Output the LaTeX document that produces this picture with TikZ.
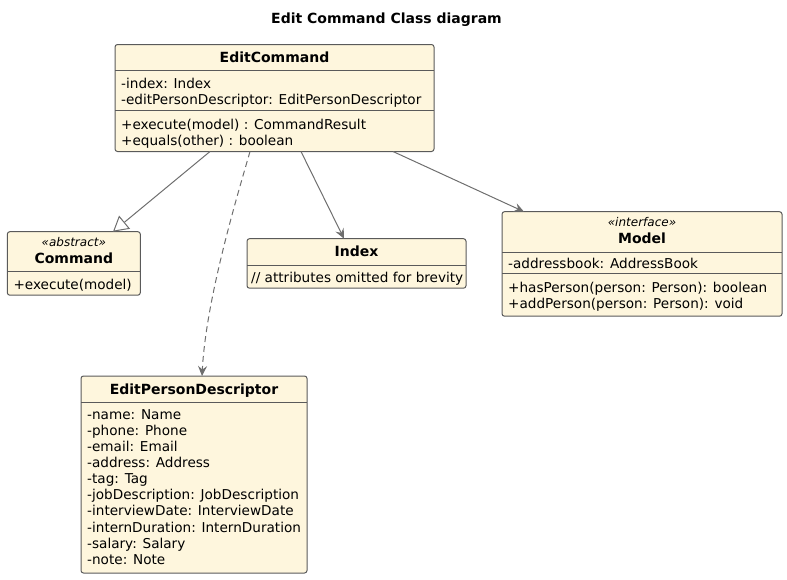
\documentclass[tikz,border=0pt]{standalone}
\usepackage{fontspec}
\setmainfont{DejaVu Sans}
\usetikzlibrary{arrows.meta,positioning}

\definecolor{classfill}{HTML}{FEF6DD}
\definecolor{classline}{HTML}{5A5A5A}
\definecolor{linkline}{HTML}{6E6E6E}

\begin{document}
\begin{tikzpicture}[x=1pt,y=-1pt,
    classbox/.style={draw=classline, fill=classfill, rounded corners=2.5pt, line width=1pt,
      anchor=north west, inner sep=0pt, outer sep=0pt},
    classname/.style={font=\fontsize{14}{16}\selectfont\bfseries, anchor=base, inner sep=0pt},
    stereo/.style={font=\fontsize{12}{14}\selectfont\itshape, anchor=base, inner sep=0pt},
    member/.style={font=\fontsize{13.6}{16}\selectfont, anchor=base west, inner sep=0pt},
    divider/.style={draw=classline, line width=1pt},
    link/.style={draw=linkline, line width=1pt},
    headtip/.tip={Stealth[length=10pt, width=9pt, inset=3.5pt]}]
    \useasboundingbox (0,0) rectangle (787,579);

    % Title
    \node[classname] (title) at (386.5,23) {Edit Command Class diagram};

    % EditCommand
    \node[classbox, minimum width=319pt, minimum height=107pt] (editcmd) at (115,44.5) {};
    \draw[divider] (editcmd.west |- 0,70) -- (editcmd.east |- 0,70);
    \draw[divider] (editcmd.west |- 0,110) -- (editcmd.east |- 0,110);
    \node[classname] (editcmdname) at (editcmd.north |- 0,62.5) {EditCommand};
    \node[member] (editcmdattr1) at (121,88) {-index: Index};
    \node[member] (editcmdattr2) at (121,104.5) {-editPersonDescriptor: EditPersonDescriptor};
    \node[member] (editcmdop1) at (121,129) {+execute(model) : CommandResult};
    \node[member] (editcmdop2) at (121,145) {+equals(other) : boolean};

    % Command
    \node[classbox, minimum width=133pt, minimum height=63.5pt] (command) at (7.3,231.7) {};
    \draw[divider] (command.west |- 0,271) -- (command.east |- 0,271);
    \node[stereo] (commandtype) at (command.north |- 0,246) {«abstract»};
    \node[classname] (commandname) at (command.north |- 0,263) {Command};
    \node[member] (commandop1) at (13.3,289) {+execute(model)};

    % Index
    \node[classbox, minimum width=219pt, minimum height=49.5pt] (index) at (247,238.7) {};
    \draw[divider] (index.west |- 0,265) -- (index.east |- 0,265);
    \node[classname] (indexname) at (index.north |- 0,256) {Index};
    \node[member] (indexnote) at (251,282) {// attributes omitted for brevity};

    % Model
    \node[classbox, minimum width=280pt, minimum height=104.5pt] (model) at (502,211.7) {};
    \draw[divider] (model.west |- 0,252) -- (model.east |- 0,252);
    \draw[divider] (model.west |- 0,273) -- (model.east |- 0,273);
    \node[stereo] (modeltype) at (model.north |- 0,226) {«interface»};
    \node[classname] (modelname) at (model.north |- 0,243) {Model};
    \node[member] (modelattr1) at (508,268) {-addressbook: AddressBook};
    \node[member] (modelop1) at (508,292.5) {+hasPerson(person: Person): boolean};
    \node[member] (modelop2) at (508,308.5) {+addPerson(person: Person): void};

    % EditPersonDescriptor
    \node[classbox, minimum width=226pt, minimum height=197pt] (epd) at (81,376) {};
    \draw[divider] (epd.west |- 0,402) -- (epd.east |- 0,402);
    \node[classname] (epdname) at (epd.north |- 0,394) {EditPersonDescriptor};
    \foreach \txt [count=\i from 0] in {-name: Name, -phone: Phone, -email: Email,
        -address: Address, -tag: Tag, -jobDescription: JobDescription,
        -interviewDate: InterviewDate, -internDuration: InternDuration,
        -salary: Salary, -note: Note}
      \node[member] (epdattr\i) at (87,419.3+16.1*\i) {\txt};

    % Relations
    \draw[link, -{Triangle[open, length=15pt, width=17pt]}]
      (editcmd.south -| 210,0) -- (command.north -| 113,0);
    \draw[link, dash pattern=on 6pt off 4pt, -headtip]
      (editcmd.south -| 250,0) .. controls (236,200) and (206,300) .. (epd.north -| 202,0);
    \draw[link, -headtip] (editcmd.south -| 301,0) -- (index.north -| 344,0);
    \draw[link, -headtip] (editcmd.south -| 393,0) -- (model.north -| 524,0);
\end{tikzpicture}
\end{document}
